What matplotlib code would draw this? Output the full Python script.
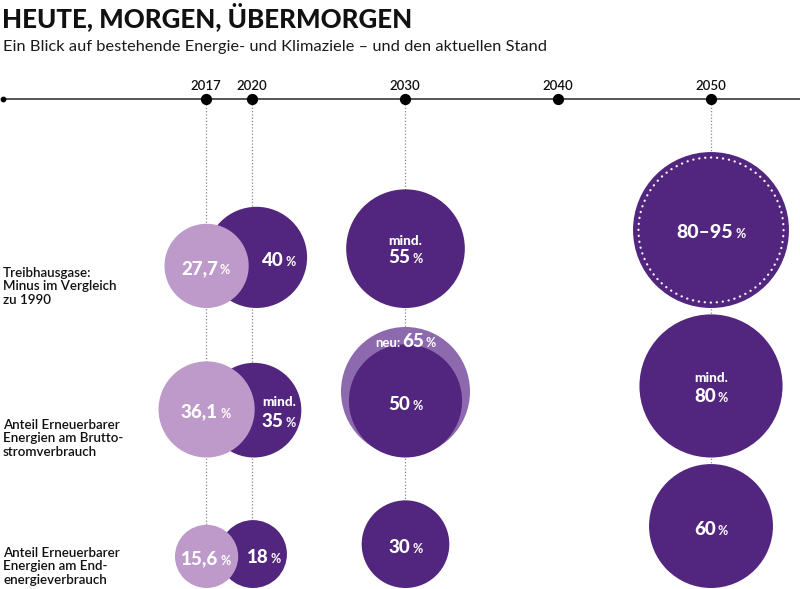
import numpy as np
import matplotlib
matplotlib.use('Agg')
import matplotlib.pyplot as plt
from matplotlib.patches import Circle

plt.rcParams['font.family'] = ['Lato', 'DejaVu Sans']

# ---- daten ----
years = [2017, 2020, 2030, 2040, 2050]
rows = ['Treibhausgase:\nMinus im Vergleich\nzu 1990',
        'Anteil Erneuerbarer\nEnergien am Brutto-\nstromverbrauch',
        'Anteil Erneuerbarer\nEnergien am End-\nenergieverbrauch']

stand_2017 = [27.7, 36.1, 15.6]
stand_2017_txt = ['27,7', '36,1', '15,6']
ziel_2020 = [40, 35, 18]
ziel_2030 = [55, 50, 30]
ziel_2030_neu = 65          # neues Ziel Erneuerbare Strom
ziel_2050 = [95, 80, 60]
ziel_2050_min = 80          # Treibhausgase 80-95 %
ziel_2050_txt = ['80–95', '80', '60']
mind_2020 = [False, True, False]
mind_2030 = [True, False, False]
mind_2050 = [False, True, False]

DARK = '#52267f'
LIGHT = '#bd9ac9'
MID = '#8d6aae'

W, H = 800, 589
fig = plt.figure(figsize=(8, 5.89), dpi=100)
ax = fig.add_axes([0, 0, 1, 1])
ax.set_xlim(0, W)
ax.set_ylim(H, 0)
ax.axis('off')
renderer = fig.canvas.get_renderer()


def xpos(year):
    return 405 + (year - 2030) * 15.3


K = 8.0


def rad(v):
    return K * np.sqrt(v)


row_bottom = [308, 457.5, 588]
dx_2020 = [4.5, 2, 1]
TL = 99  # timeline y

# title
ax.text(2, 27, 'HEUTE, MORGEN, ÜBERMORGEN', fontsize=18.6, fontweight='black',
        color='#111111', ha='left', va='baseline')
ax.text(3, 51, 'Ein Blick auf bestehende Energie- und Klimaziele – und den aktuellen Stand',
        fontsize=11.8, fontweight='normal', color='#1a1a1a', ha='left', va='baseline')

# timeline
ax.plot([3, W], [TL, TL], color='#555555', lw=1.4, zorder=1)
ax.scatter([3], [TL], s=10, color='black', zorder=2)
ax.scatter([xpos(y) for y in years], [TL] * len(years), s=50, color='black', zorder=2)
for y in years:
    ax.text(xpos(y), 86, str(y), fontsize=9.5, fontweight='semibold', ha='center', va='center',
            color='#111111')
    if y != 2040:
        ax.plot([xpos(y), xpos(y)], [TL + 5, 560], color='#8a8a8a', lw=0.9,
                linestyle=(0, (1, 1.6)), zorder=0)

# row labels
for i, lab in enumerate(rows):
    ytop = [267, 419, 547][i]
    ax.text(3, ytop, lab, fontsize=9.6, fontweight='semibold', color='#111111',
            ha='left', va='top', linespacing=1.15)


def pct(x, yc, num, size=13.5, psize=9, pre=None, presize=9.5, gap=2.0):
    base = yc + size * 100 / 72 * 0.717 / 2
    parts = []
    if pre:
        parts.append((pre, presize, 2, 'bold'))
    parts.append((num, size, gap, 'black'))
    parts.append(('%', psize, 0, 'bold'))
    objs = []
    total = 0
    for txt, sz, g, wt in parts:
        t = ax.text(0, base, txt, fontsize=sz, fontweight=wt, color='white',
                    ha='left', va='baseline', zorder=6)
        w = t.get_window_extent(renderer).width
        objs.append((t, w, g))
        total += w + g
    x0 = x - total / 2
    for t, w, g in objs:
        t.set_x(x0)
        x0 += w + g


def small(x, yc, txt, size=9.8):
    ax.text(x, yc, txt, fontsize=size, fontweight='black', color='white',
            ha='center', va='center', zorder=6)


for i in range(3):
    b = row_bottom[i]
    # 2020 (dunkel)
    r20 = rad(ziel_2020[i])
    x20 = xpos(2020) + dx_2020[i]
    ax.add_patch(Circle((x20, b - r20), r20, color=DARK, lw=0, zorder=2))
    # 2017 (hell)
    r17 = rad(stand_2017[i])
    x17 = xpos(2017) + 0.5
    ax.add_patch(Circle((x17, b - r17), r17, color=LIGHT, lw=0, zorder=3))
    pct(x17 - 1, b - r17 + 1.5, stand_2017_txt[i])
    # text in sichtbarer sichel
    xt = ((x17 + r17) + (x20 + r20)) / 2 + 1
    if mind_2020[i]:
        small(xt, b - r20 - 8, 'mind.')
        pct(xt, b - r20 + 10, str(ziel_2020[i]))
    else:
        pct(xt, b - r20 + 2, str(ziel_2020[i]))

    # 2030
    r30 = rad(ziel_2030[i])
    x30 = xpos(2030) + 0.5
    if i == 1:
        rn = rad(ziel_2030_neu)
        ax.add_patch(Circle((x30, b - 1.5 - rn), rn, color=MID, lw=0, zorder=2))
        pct(x30, b - 1.5 - 2 * rn + 13, str(ziel_2030_neu), pre='neu:')
    ax.add_patch(Circle((x30, b - r30), r30, color=DARK, lw=0, zorder=3))
    if mind_2030[i]:
        small(x30, b - r30 - 8, 'mind.')
        pct(x30, b - r30 + 8, str(ziel_2030[i]))
    else:
        pct(x30, b - r30 + 2, str(ziel_2030[i]))

    # 2050
    r50 = rad(ziel_2050[i])
    x50 = xpos(2050)
    ax.add_patch(Circle((x50, b - r50), r50, color=DARK, lw=0, zorder=3))
    if i == 0:
        c = Circle((x50, b - r50), rad(ziel_2050_min) + 1, fill=False, edgecolor='white',
                   lw=1.6, linestyle=(0, (0.1, 2.6)), zorder=4)
        c.set_capstyle('round')
        ax.add_patch(c)
        pct(x50, b - r50 + 1, ziel_2050_txt[i], size=14)
    elif mind_2050[i]:
        small(x50, b - r50 - 8, 'mind.')
        pct(x50, b - r50 + 9, ziel_2050_txt[i])
    else:
        pct(x50, b - r50 + 2, ziel_2050_txt[i])

fig.savefig('out.png', dpi=100)
